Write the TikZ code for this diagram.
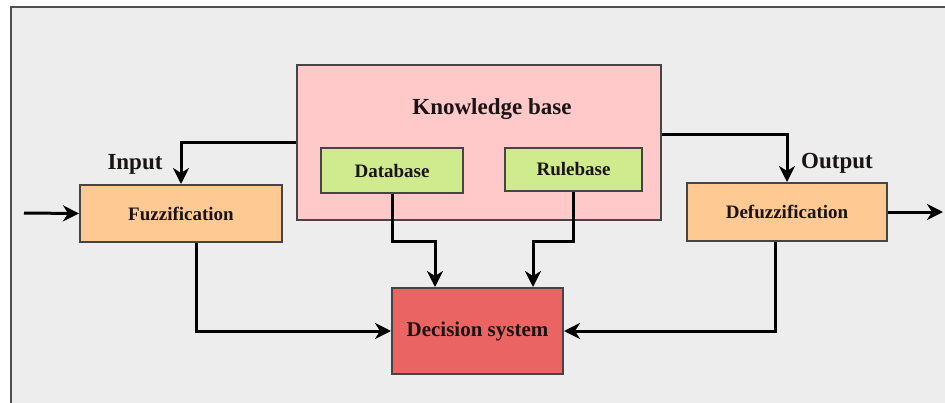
\documentclass[tikz,border=0pt]{standalone}
\usepackage{fontspec}
\setmainfont{Liberation Serif}
\usetikzlibrary{arrows.meta,calc}
\definecolor{bggray}{HTML}{EDEDED}
\definecolor{framegray}{HTML}{505050}
\definecolor{kbpink}{HTML}{FFC9C9}
\definecolor{dbgreen}{HTML}{D0EB8E}
\definecolor{fzorange}{HTML}{FFC994}
\definecolor{decred}{HTML}{EA6464}
\definecolor{boxline}{HTML}{454545}
\definecolor{txt}{HTML}{1A1414}
\tikzset{
  box/.style={draw=boxline, line width=2pt, rectangle, inner sep=0pt, text=txt, font=\bfseries},
  conn/.style={line width=3pt, draw=black, -{Stealth[length=16pt,width=16pt,inset=5pt]}},
  lbl/.style={font=\bfseries\fontsize{23}{26}\selectfont, text=txt, inner sep=0pt}
}
\begin{document}
\begin{tikzpicture}[x=1pt,y=-1pt]
\useasboundingbox (0,0) rectangle (945,402);
\begin{scope}
\clip (0,0) rectangle (945,402);
\fill[white] (0,0) rectangle (945,402);
\draw[fill=bggray, draw=framegray, line width=2pt] (11,7) rectangle (970,430);
\end{scope}

\node[box, fill=kbpink, minimum width=364pt, minimum height=155pt] (kb) at (479,142.5) {};
\node[lbl] (kbl) at (492,109) {Knowledge base};
\node[box, fill=dbgreen, minimum width=142pt, minimum height=45pt, font=\bfseries\fontsize{19}{22}\selectfont] (db) at (392,170.5) {Database};
\node[box, fill=dbgreen, minimum width=137pt, minimum height=43pt, font=\bfseries\fontsize{19}{22}\selectfont] (rb) at (573.5,169.5) {Rulebase};
\node[box, fill=fzorange, minimum width=202pt, minimum height=57pt, font=\bfseries\fontsize{19}{22}\selectfont] (fz) at (181,213.5) {Fuzzification};
\node[box, fill=fzorange, minimum width=200pt, minimum height=58pt, font=\bfseries\fontsize{19}{22}\selectfont] (dfz) at (787,212) {Defuzzification};
\node[box, fill=decred, minimum width=171pt, minimum height=86pt, font=\bfseries\fontsize{21}{24}\selectfont] (dec) at (477.5,331) {Decision system};

\node[lbl] (inl) at (135,164) {Input};
\node[lbl] (outl) at (837,163) {Output};

\coordinate (inpt) at (24,213);
\coordinate (outpt) at (943,212);

\draw[conn] (inpt) -- (fz.west);
\draw[conn] (kb.west) -| (fz.north);
\draw[conn] ($(kb.east)+(0,-8.5)$) -| (dfz.north);
\draw[conn] (dfz.east) -- (outpt);
\draw[conn] (db.south) -- ++(0,47) -| ($(dec.north)+(-42.5,0)$);
\draw[conn] (rb.south) -- ++(0,49) -| ($(dec.north)+(55.5,0)$);
\draw[conn] ($(fz.south)+(15,0)$) |- (dec.west);
\draw[conn] ($(dfz.south)+(-12,0)$) |- (dec.east);
\end{tikzpicture}
\end{document}
